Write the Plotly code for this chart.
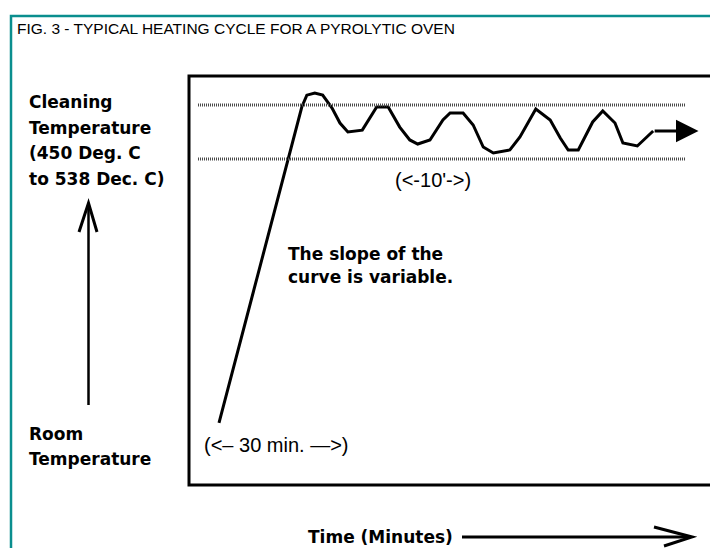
import plotly.graph_objects as go

# ---- data (schematic heating cycle) ----
time_min = [0, 9.6, 11.5, 12.2, 13.3, 14.4, 15.7, 16.8, 17.9, 19.9, 21.9, 23.5,
            25.1, 26.5, 27.6, 29.3, 31.1, 32.1, 33.9, 35.3, 36.7, 38.1, 40.4,
            41.8, 44.0, 46.0, 47.4, 48.5, 49.9, 51.9, 53.3, 55.0, 56.1, 58.1, 60.3]
temp_c = [20, 450, 534.7, 554, 557.5, 554, 533, 508.6, 494, 497, 534.7, 534.7,
          502, 481, 474.4, 481, 513.5, 525, 525, 505.4, 469.5, 459.8, 464.7,
          485.8, 531.5, 513.5, 484.2, 464.7, 464.7, 510.3, 528.2, 508.6, 476, 471.2, 495.6]
arrow_end_min = 66.6
clean_low = 450
clean_high = 538

title = "FIG. 3 - TYPICAL HEATING CYCLE FOR A PYROLYTIC OVEN"
upper_label = ["Cleaning", "Temperature", "(450 Deg. C", "to 538 Dec. C)"]
lower_label = ["Room", "Temperature"]
slope_note = ["The slope of the", "curve is variable."]
ramp_note = "(<\u2013 30 min. \u2014>)"
cycle_note = "(<-10'->)"
x_title = "Time (Minutes)"

W, H = 710, 548
def px(x):
    return x / W
def py(y):
    return 1 - y / H

BOLD = "DejaVu Sans"
fig = go.Figure()

fig.add_trace(go.Scatter(x=time_min, y=temp_c, mode="lines",
                         line=dict(color="black", width=3), hoverinfo="skip",
                         showlegend=False))

shapes = []
# teal frame
shapes.append(dict(type="path", xref="paper", yref="paper",
                   path=f"M {px(11)},{py(560)} L {px(11)},{py(16)} L {px(730)},{py(16)}",
                   line=dict(color="#0A8E8E", width=2.5)))
# plot box
shapes.append(dict(type="rect", xref="paper", yref="paper",
                   x0=px(189), x1=px(730), y0=py(485), y1=py(76),
                   line=dict(color="black", width=3)))
# cleaning temperature band lines
for v in (clean_high, clean_low):
    shapes.append(dict(type="line", xref="paper", yref="y",
                       x0=px(198), x1=px(685), y0=v, y1=v,
                       line=dict(color="#4a4a4a", width=3, dash="1px,1px")))
# vertical arrow
shapes.append(dict(type="path", xref="paper", yref="paper",
                   path=f"M {px(88.5)},{py(405)} L {px(88.5)},{py(205)}",
                   line=dict(color="black", width=2.5)))
shapes.append(dict(type="path", xref="paper", yref="paper",
                   path=f"M {px(79)},{py(232)} L {px(88.5)},{py(203)} L {px(97)},{py(232)}",
                   line=dict(color="black", width=3)))
# time arrow
shapes.append(dict(type="path", xref="paper", yref="paper",
                   path=f"M {px(462)},{py(537)} L {px(690)},{py(537)}",
                   line=dict(color="black", width=3)))
shapes.append(dict(type="path", xref="paper", yref="paper",
                   path=f"M {px(654)},{py(527)} L {px(692)},{py(537)} L {px(664)},{py(546)}",
                   line=dict(color="black", width=3)))

ann = []
ann.append(dict(text=title, xref="paper", yref="paper", x=px(15), y=py(28),
                xanchor="left", yanchor="middle", showarrow=False,
                font=dict(family="Liberation Sans", size=15.5, color="black")))
for i, t in enumerate(upper_label):
    ann.append(dict(text=f"<b>{t}</b>", xref="paper", yref="paper", x=px(27), y=py(102 + 25.5 * i),
                    xanchor="left", yanchor="middle", showarrow=False,
                    font=dict(family=BOLD, size=17, color="black")))
for i, t in enumerate(lower_label):
    ann.append(dict(text=f"<b>{t}</b>", xref="paper", yref="paper", x=px(27), y=py(434 + 25 * i),
                    xanchor="left", yanchor="middle", showarrow=False,
                    font=dict(family=BOLD, size=17, color="black")))
for i, t in enumerate(slope_note):
    ann.append(dict(text=f"<b>{t}</b>", xref="paper", yref="paper", x=px(286), y=py(254 + 23 * i),
                    xanchor="left", yanchor="middle", showarrow=False,
                    font=dict(family=BOLD, size=17, color="black")))
ann.append(dict(text=ramp_note, xref="paper", yref="paper", x=px(202), y=py(445),
                xanchor="left", yanchor="middle", showarrow=False,
                font=dict(family="Liberation Sans", size=20, color="black")))
ann.append(dict(text=cycle_note, xref="paper", yref="paper", x=px(393), y=py(180),
                xanchor="left", yanchor="middle", showarrow=False,
                font=dict(family="Liberation Sans", size=20, color="black")))
ann.append(dict(text=f"<b>{x_title}</b>", xref="paper", yref="paper", x=px(306), y=py(537),
                xanchor="left", yanchor="middle", showarrow=False,
                font=dict(family=BOLD, size=17, color="black")))
# arrow at end of the curve
ann.append(dict(x=arrow_end_min, y=temp_c[-1], ax=time_min[-1], ay=temp_c[-1],
                xref="x", yref="y", axref="x", ayref="y", text="", showarrow=True,
                arrowhead=2, arrowsize=1.5, arrowwidth=3, arrowcolor="black"))

fig.update_layout(
    width=W, height=H, margin=dict(l=0, r=0, t=0, b=0),
    paper_bgcolor="white", plot_bgcolor="white",
    xaxis=dict(range=[-30.417, 68.194], visible=False, fixedrange=True),
    yaxis=dict(range=[-183.7, 709.0], visible=False, fixedrange=True),
    shapes=shapes, annotations=ann, showlegend=False,
)
fig.write_html("out.html", config={"displayModeBar": False},
               post_script="document.body.style.margin='0';document.body.style.overflow='hidden';")
